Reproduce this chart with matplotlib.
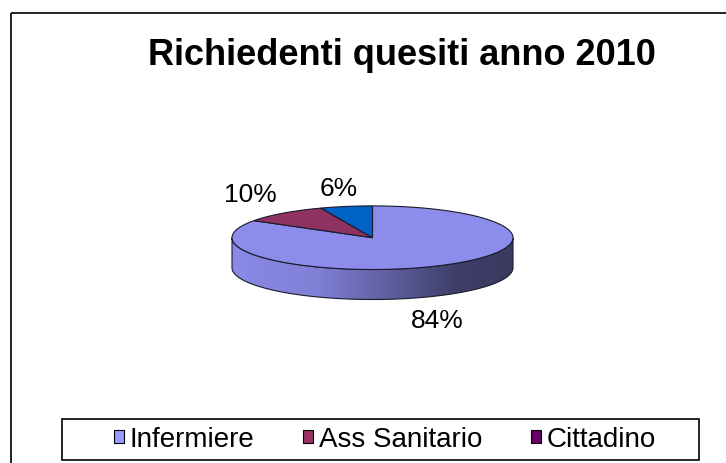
import numpy as np
import matplotlib.pyplot as plt
from matplotlib.patches import Polygon, Rectangle, Patch

categories = ['Infermiere', 'Ass Sanitario', 'Cittadino']
values = [84, 10, 6]
pct_labels = ['84%', '10%', '6%']
top_colors = ['#8c8cec', '#8e3262', '#0062c4']
legend_colors = ['#9999ff', '#993366', '#660066']

plt.rcParams['font.family'] = ['Liberation Sans', 'DejaVu Sans']

fig = plt.figure(figsize=(7.26, 4.64), dpi=100)
ax = fig.add_axes([0, 0, 1, 1])
ax.set_xlim(0, 726)
ax.set_ylim(464, 0)
ax.axis('off')

# chart frame
ax.add_patch(Rectangle((10.5, 13.5), 730, 460, fill=False, edgecolor='#111111', lw=1.3))

ax.text(401.5, 65, 'Richiedenti quesiti anno 2010', fontsize=26, fontweight='bold',
        ha='center', va='baseline')

# pie geometry (pixels)
cx, cy, rx, ry, depth = 372.5, 238.7, 140.5, 31.8, 30


def ell(t, dy=0.0):
    # t in degrees, clockwise from 12 o'clock
    r = np.radians(t)
    return cx + rx * np.sin(r), cy - ry * np.cos(r) + dy


# side wall (front half)
t = np.linspace(90, 270, 200)
xt, yt = ell(t)
xb, yb = ell(t[::-1], depth)
side = Polygon(np.column_stack([np.r_[xt, xb], np.r_[yt, yb]]), closed=True,
               facecolor='none', edgecolor='#1a1a2a', lw=0.8, zorder=3)
ax.add_patch(side)

stops = np.array([0, 0.3, 0.55, 0.8, 1.0])
cols = np.array([[138, 138, 232], [128, 128, 214], [96, 96, 162],
                 [62, 62, 104], [58, 58, 96]]) / 255
gx = np.linspace(0, 1, 400)
grad = np.stack([np.interp(gx, stops, cols[:, k]) for k in range(3)], axis=-1)[None, :, :]
im = ax.imshow(grad, extent=(cx - rx, cx + rx, cy + ry + depth + 2, cy - 2),
               aspect='auto', zorder=2)
im.set_clip_path(side)
ax.set_xlim(0, 726)
ax.set_ylim(464, 0)

# top face wedges
total = sum(values)
start = 0.0
mids = []
for v, c in zip(values, top_colors):
    end = start + v / total * 360
    tt = np.linspace(start, end, max(int(v * 4), 10))
    x, y = ell(tt)
    wedge = Polygon(np.column_stack([np.r_[cx, x], np.r_[cy, y]]), closed=True,
                    facecolor=c, edgecolor='#1a1a2a', lw=0.8, zorder=4)
    ax.add_patch(wedge)
    mids.append((start + end) / 2)
    start = end

# percentage labels
offsets = [(-3, 61), (-33, -12), (-7, -11)]
for lab, m, (dx, dy) in zip(pct_labels, mids, offsets):
    x, y = ell(m)
    ax.text(x + dx, y + dy, lab, fontsize=19, ha='center', va='baseline', zorder=5)

# legend box
ax.add_patch(Rectangle((62, 420), 637, 41, fill=False, edgecolor='black', lw=1.2))
handles = [Patch(facecolor=c, edgecolor='black', lw=0.8) for c in legend_colors]
leg = fig.legend(handles, categories, ncol=3, loc='center',
                 bbox_to_anchor=(385 / 726, 1 - 440.5 / 464), frameon=False,
                 handlelength=0.37, handleheight=0.37, handletextpad=0.2,
                 fontsize=20, borderaxespad=0, borderpad=0, columnspacing=1.75)

fig.savefig('out.png', dpi=100)
